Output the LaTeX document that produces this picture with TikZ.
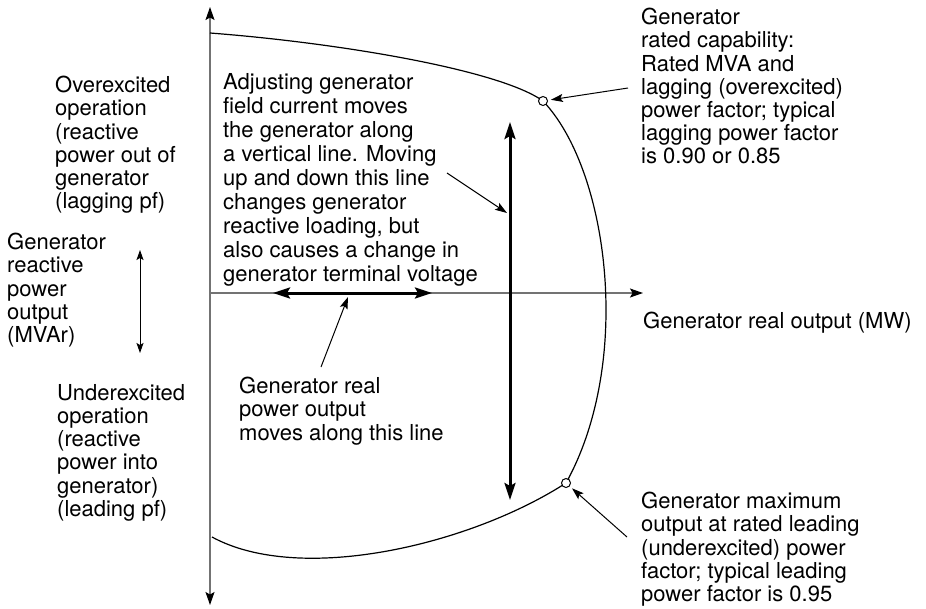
\documentclass[tikz,border=0pt]{standalone}
\usepackage{fontspec}
\setmainfont{TeX Gyre Heros}
\usetikzlibrary{arrows.meta}
\tikzset{
  axtip/.tip={Stealth[length=13pt,width=9pt,inset=2.5pt,color=black]},
  bigtip/.tip={Stealth[length=17pt,width=11pt,inset=3pt]},
  ptrtip/.tip={Stealth[length=12pt,width=8pt,inset=2.5pt]},
  smalltip/.tip={Stealth[length=10pt,width=7pt,inset=2pt]}
}
\begin{document}
\begin{tikzpicture}[x=1pt,y=-1pt,
  lbl/.style={anchor=north west,inner sep=0pt,align=left,font=\fontsize{22}{23.2}\selectfont},
  axisline/.style={draw=black!55,line width=1.3pt},
  bigarrow/.style={line width=3pt,bigtip-bigtip},
  ptr/.style={line width=1pt,-ptrtip},
  smallarrow/.style={line width=1pt,smalltip-smalltip},
  dot/.style={circle,draw,fill=white,line width=1pt,minimum size=9pt,inner sep=0pt},
  curve/.style={line width=1.2pt}]
\useasboundingbox (0,0) rectangle (926,608);
% axes
\coordinate (vb) at (210,605);
\coordinate (vt) at (210,7);
\coordinate (hl) at (210,293);
\coordinate (hr) at (643,293);
\draw[axisline,axtip-axtip] (vb) -- (vt);
\draw[axisline,-axtip] (hl) -- (hr);
% capability curve
\draw[curve] (210,33) .. controls (340,43) and (500,70) .. (543,101)
  .. controls (582,142) and (606,225) .. (606,310)
  .. controls (606,380) and (590,440) .. (566,483)
  .. controls (470,545) and (300,585) .. (212,537);
% double arrows
\coordinate (ha) at (273,293);
\coordinate (hb) at (432,293);
\draw[bigarrow] (ha) -- (hb);
\coordinate (va) at (510,122);
\coordinate (vbb) at (510,500);
\draw[bigarrow] (va) -- (vbb);
\coordinate (qa) at (140,250);
\coordinate (qb) at (140,353);
\draw[smallarrow] (qa) -- (qb);
% rated points
\node[dot] (c1) at (543,101) {};
\node[dot] (c2) at (566,483) {};
% texts
\node[lbl] (tr) at (641,8) {Generator\\rated capability:\\Rated MVA and\\lagging (overexcited)\\power factor; typical\\lagging power factor\\is 0.90 or 0.85};
\node[lbl] (lt) at (55,76) {Overexcited\\operation\\(reactive\\power out of\\generator\\(lagging pf)};
\node[lbl] (lm) at (7,233) {Generator\\reactive\\power\\output\\(MVAr)};
\node[lbl] (lb) at (57,384) {Underexcited\\operation\\(reactive\\power into\\generator)\\(leading pf)};
\node[lbl,font=\fontsize{22}{24}\selectfont] (ct) at (223,73) {Adjusting generator\\field current moves\\the generator along\\a vertical line. Moving\\up and down this line\\changes generator\\reactive loading, but\\also causes a change in\\generator terminal voltage};
\node[lbl] (rp) at (239,377) {Generator real\\power output\\moves along this line};
\node[lbl] (mw) at (643,312) {Generator real output (MW)};
\node[lbl] (br) at (641,492) {Generator maximum\\output at rated leading\\(underexcited) power\\factor; typical leading\\power factor is 0.95};
% pointers
\coordinate (p1) at (628,88);
\draw[ptr,shorten >=3pt] (p1) -- (c1);
\coordinate (p2) at (627,537);
\draw[ptr,shorten >=3pt] (p2) -- (c2);
\coordinate (p3) at (447,173);
\coordinate (t3) at (507,213);
\draw[ptr] (p3) -- (t3);
\coordinate (p4) at (321,367);
\coordinate (t4) at (348,297);
\draw[ptr] (p4) -- (t4);
\end{tikzpicture}
\end{document}
